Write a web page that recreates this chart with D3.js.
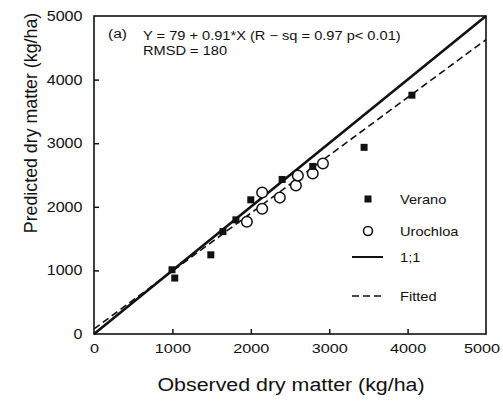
<!DOCTYPE html>
<html><head><meta charset="utf-8">
<script src="https://cdn.jsdelivr.net/npm/d3@7/dist/d3.min.js"></script>
<style>
html,body{margin:0;padding:0;background:#fff;}
svg{display:block;font-family:"Liberation Sans",Arial,Helvetica,sans-serif;}
</style></head>
<body>
<svg id="chart" width="503" height="403"></svg>
<script>
// ---- data ----
const axisTicks = [0, 1000, 2000, 3000, 4000, 5000];
const veranoObs  = [995, 1030, 1490, 1645, 1810, 2000, 2400, 2790, 3445, 4055];
const veranoPred = [1010, 880, 1245, 1610, 1795, 2110, 2430, 2635, 2935, 3755];
const urochloaObs  = [1950, 2145, 2145, 2370, 2575, 2600, 2790, 2920];
const urochloaPred = [1765, 1970, 2225, 2145, 2335, 2490, 2525, 2680];
const fitIntercept = 79, fitSlope = 0.91;
const oneToOne = [0, 5000];
const legendLabels = ["Verano", "Urochloa", "1;1", "Fitted"];
const annotation = ["(a)", "Y = 79 + 0.91*X (R \u2212 sq = 0.97 p< 0.01)", "RMSD = 180"];
const xTitle = "Observed dry matter (kg/ha)";
const yTitle = "Predicted dry matter (kg/ha)";

// ---- layout ----
const L = 94, R = 486, T = 16, B = 334;
const svg = d3.select("#chart");
const x = d3.scaleLinear().domain([0, 5000]).range([L, R]);
const y = d3.scaleLinear().domain([0, 5000]).range([B, T]);
const ink = "#111";

function stext(str, px, py, size, sx, anchor) {
  return svg.append("text")
    .attr("transform", `translate(${px},${py}) scale(${sx},1)`)
    .attr("font-size", size).attr("fill", ink)
    .attr("text-anchor", anchor || "start")
    .text(str);
}

// axes
const gx = svg.append("g").attr("transform", `translate(0,${B})`)
  .call(d3.axisBottom(x).tickValues(axisTicks).tickFormat(d3.format("d"))
    .tickSizeInner(-5).tickSizeOuter(0).tickPadding(10));
gx.select(".domain").remove();
gx.selectAll(".tick line").attr("stroke", ink).attr("stroke-width", 1.5);
gx.selectAll(".tick text").attr("font-size", 12.5).attr("fill", ink)
  .attr("font-family", "Liberation Sans, Arial, sans-serif")
  .attr("transform", "scale(1.3,1)");
gx.selectAll(".tick").filter(d => d === 5000).select("text").attr("dx", -3.5);
gx.selectAll(".tick").filter(d => d === 0 || d === 5000).select("line").remove();

const gy = svg.append("g").attr("transform", `translate(${L},0)`)
  .call(d3.axisLeft(y).tickValues(axisTicks).tickFormat(d3.format("d"))
    .tickSizeInner(-5).tickSizeOuter(0).tickPadding(10));
gy.select(".domain").remove();
gy.selectAll(".tick line").attr("stroke", ink).attr("stroke-width", 1.5);
gy.selectAll(".tick text").attr("font-size", 14).attr("fill", ink)
  .attr("font-family", "Liberation Sans, Arial, sans-serif")
  .attr("transform", "scale(1.15,1)");
gy.selectAll(".tick").filter(d => d === 0 || d === 5000).select("line").remove();

// frame
svg.append("rect").attr("x", L).attr("y", T).attr("width", R - L).attr("height", B - T)
  .attr("fill", "none").attr("stroke", ink).attr("stroke-width", 1.6);

// lines
const line = d3.line().x(d => x(d[0])).y(d => y(d[1]));
svg.append("path").datum(oneToOne.map(v => [v, v])).attr("d", line)
  .attr("stroke", ink).attr("stroke-width", 2.6).attr("fill", "none");
svg.append("path").datum(oneToOne.map(v => [v, fitIntercept + fitSlope * v])).attr("d", line)
  .attr("stroke", ink).attr("stroke-width", 1.6).attr("stroke-dasharray", "7,4").attr("fill", "none");

// points
svg.append("g").selectAll("circle").data(urochloaObs.map((v, i) => [v, urochloaPred[i]]))
  .join("circle").attr("cx", d => x(d[0])).attr("cy", d => y(d[1])).attr("r", 5.3)
  .attr("fill", "#fff").attr("stroke", ink).attr("stroke-width", 1.5);
const sq = 7;
svg.append("g").selectAll("rect").data(veranoObs.map((v, i) => [v, veranoPred[i]]))
  .join("rect").attr("x", d => x(d[0]) - sq / 2).attr("y", d => y(d[1]) - sq / 2)
  .attr("width", sq).attr("height", sq).attr("fill", ink);

// legend
const lx = 368, ltx = 400, ly = [199, 231, 257, 296];
svg.append("rect").attr("x", lx - 3.5).attr("y", ly[0] - 3.5).attr("width", 7).attr("height", 7).attr("fill", ink);
svg.append("circle").attr("cx", lx).attr("cy", ly[1]).attr("r", 4.5)
  .attr("fill", "#fff").attr("stroke", ink).attr("stroke-width", 1.6);
svg.append("line").attr("x1", 352).attr("x2", 383).attr("y1", ly[2]).attr("y2", ly[2])
  .attr("stroke", ink).attr("stroke-width", 2);
svg.append("line").attr("x1", 352).attr("x2", 383).attr("y1", ly[3]).attr("y2", ly[3])
  .attr("stroke", ink).attr("stroke-width", 1.6).attr("stroke-dasharray", "7,4");
legendLabels.forEach((s, i) => stext(s, ltx, ly[i] + 4.5, 12.5, 1.17, "start"));

// annotation
stext(annotation[0], 108, 38, 13.5, 1.15, "start");
stext(annotation[1], 143, 40, 12.5, 1.17, "start");
stext(annotation[2], 143, 55, 12.5, 1.17, "start");

// axis titles
stext(xTitle, 291, 391, 17.8, 1.2, "middle");
svg.append("text").attr("transform", "translate(37,123) rotate(-90)")
  .attr("font-size", 17.8).attr("fill", ink).attr("text-anchor", "middle").text(yTitle);
</script>
</body></html>
